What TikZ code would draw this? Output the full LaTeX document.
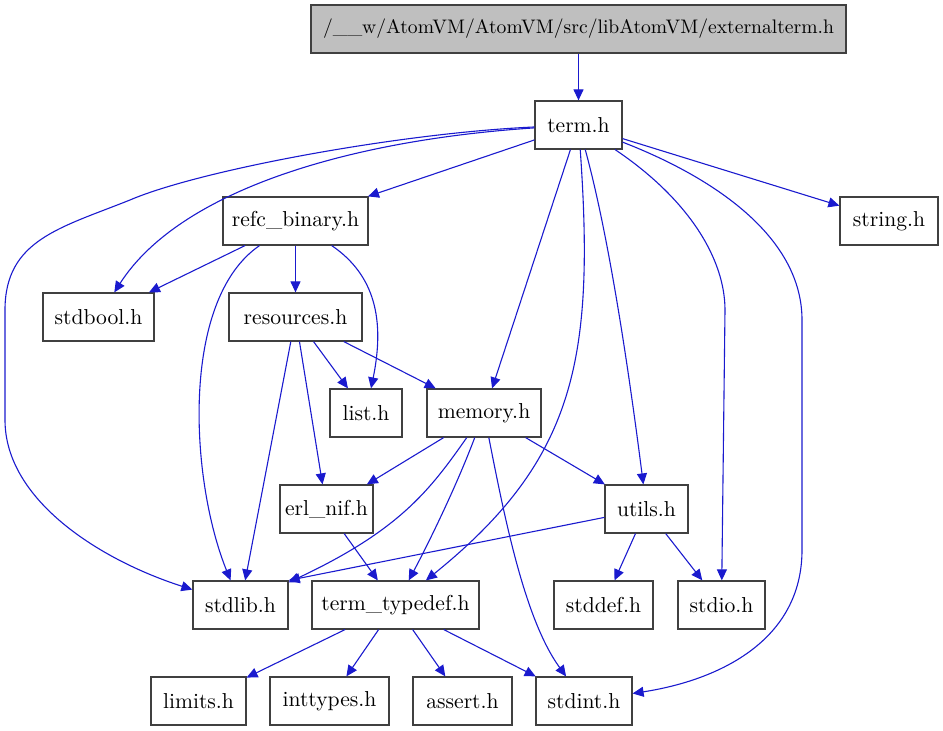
\documentclass[tikz,border=0pt]{standalone}
\usepackage{tikz}
\usepackage{xcolor}
\usetikzlibrary{arrows.meta, positioning, calc}

\definecolor{edgeblue}{RGB}{26,26,206}
\definecolor{rootgray}{RGB}{191,191,191}

\tikzset{
  hdr/.style={draw=black!75, line width=0.6pt, rectangle, minimum height=24pt,
    inner sep=0pt, font=\fontsize{10.8}{13}\selectfont},
  incl/.style={draw=edgeblue, line width=0.55pt, -{Triangle[length=5.5pt,width=5pt]}}
}

\begin{document}
\begin{tikzpicture}[x=0.5pt, y=-0.5pt]
\useasboundingbox (0,0) rectangle (943,731);

% root file
\node[hdr, fill=rootgray, minimum width=267.5pt, font=\fontsize{9.8}{12}\selectfont] (ext) at (578.5,29) {/\_\_w/AtomVM/AtomVM/src/libAtomVM/externalterm.h};

% included headers
\node[hdr, minimum width=43.5pt] (term) at (578.5,125) {term.h};
\node[hdr, minimum width=72.5pt] (refc) at (295.5,221) {refc\_binary.h};
\node[hdr, minimum width=49pt] (strh) at (889,221) {string.h};
\node[hdr, minimum width=55.5pt] (stdbool) at (98.5,317) {stdbool.h};
\node[hdr, minimum width=66.5pt] (res) at (295.5,317) {resources.h};
\node[hdr, minimum width=36pt] (list) at (366,413) {list.h};
\node[hdr, minimum width=57pt] (mem) at (484,413) {memory.h};
\node[hdr, minimum width=46.5pt] (erl) at (326.5,509) {erl\_nif.h};
\node[hdr, minimum width=41.5pt] (utils) at (646.5,509) {utils.h};
\node[hdr, minimum width=47.5pt] (stdlib) at (240.5,605) {stdlib.h};
\node[hdr, minimum width=83.5pt] (ttd) at (395.5,605) {term\_typedef.h};
\node[hdr, minimum width=49.5pt] (stddef) at (603.5,605) {stddef.h};
\node[hdr, minimum width=43.5pt] (stdio) at (721.5,605) {stdio.h};
\node[hdr, minimum width=47.5pt] (limits) at (198.5,701) {limits.h};
\node[hdr, minimum width=59.5pt] (inttypes) at (329.5,701) {inttypes.h};
\node[hdr, minimum width=49.5pt] (assert) at (462.5,701) {assert.h};
\node[hdr, minimum width=48pt] (stdint) at (584,701) {stdint.h};

% edges from term.h
\draw[incl] (ext) -- (term);
\draw[incl] (term) -- (refc);
\draw[incl] (term) -- (mem);
\draw[incl] (term) -- (strh);
\draw[incl] (term) .. controls (350,140) and (180,190) .. (stdbool);
\draw[incl] (term) .. controls (400,133) and (200,170) .. (130,200)
  .. controls (60,228) and (5,240) .. (5,310) -- (5,420)
  .. controls (5,500) and (100,560) .. (stdlib);
\draw[incl] (term) .. controls (595,360) and (575,460) .. (ttd);
\draw[incl] (term) .. controls (610,240) and (630,380) .. (utils);
\draw[incl] (term) .. controls (690,200) and (725,260) .. (725,310) -- (stdio);
\draw[incl] (term) .. controls (720,180) and (802,240) .. (802,320) -- (802,550)
  .. controls (802,640) and (720,680) .. (stdint);

% refc_binary.h and resources.h
\draw[incl] (refc) -- (stdbool);
\draw[incl] (refc) -- (res);
\draw[incl] (refc) .. controls (375,275) and (385,320) .. (list);
\draw[incl] (refc) .. controls (180,300) and (190,480) .. (stdlib);
\draw[incl] (res) -- (stdlib);
\draw[incl] (res) -- (erl);
\draw[incl] (res) -- (list);
\draw[incl] (res) -- (mem);

% memory.h, erl_nif.h, utils.h
\draw[incl] (mem) -- (erl);
\draw[incl] (mem) -- (utils);
\draw[incl] (mem) .. controls (430,490) and (400,530) .. (stdlib);
\draw[incl] (mem) .. controls (455,490) and (425,550) .. (ttd);
\draw[incl] (mem) .. controls (505,520) and (525,620) .. (stdint);
\draw[incl] (erl) -- (ttd);
\draw[incl] (utils) -- (stdlib.north east);
\draw[incl] (utils) -- (stddef);
\draw[incl] (utils) -- (stdio);

% term_typedef.h
\draw[incl] (ttd) -- (limits);
\draw[incl] (ttd) -- (inttypes);
\draw[incl] (ttd) -- (assert);
\draw[incl] (ttd) -- (stdint);
\end{tikzpicture}
\end{document}
